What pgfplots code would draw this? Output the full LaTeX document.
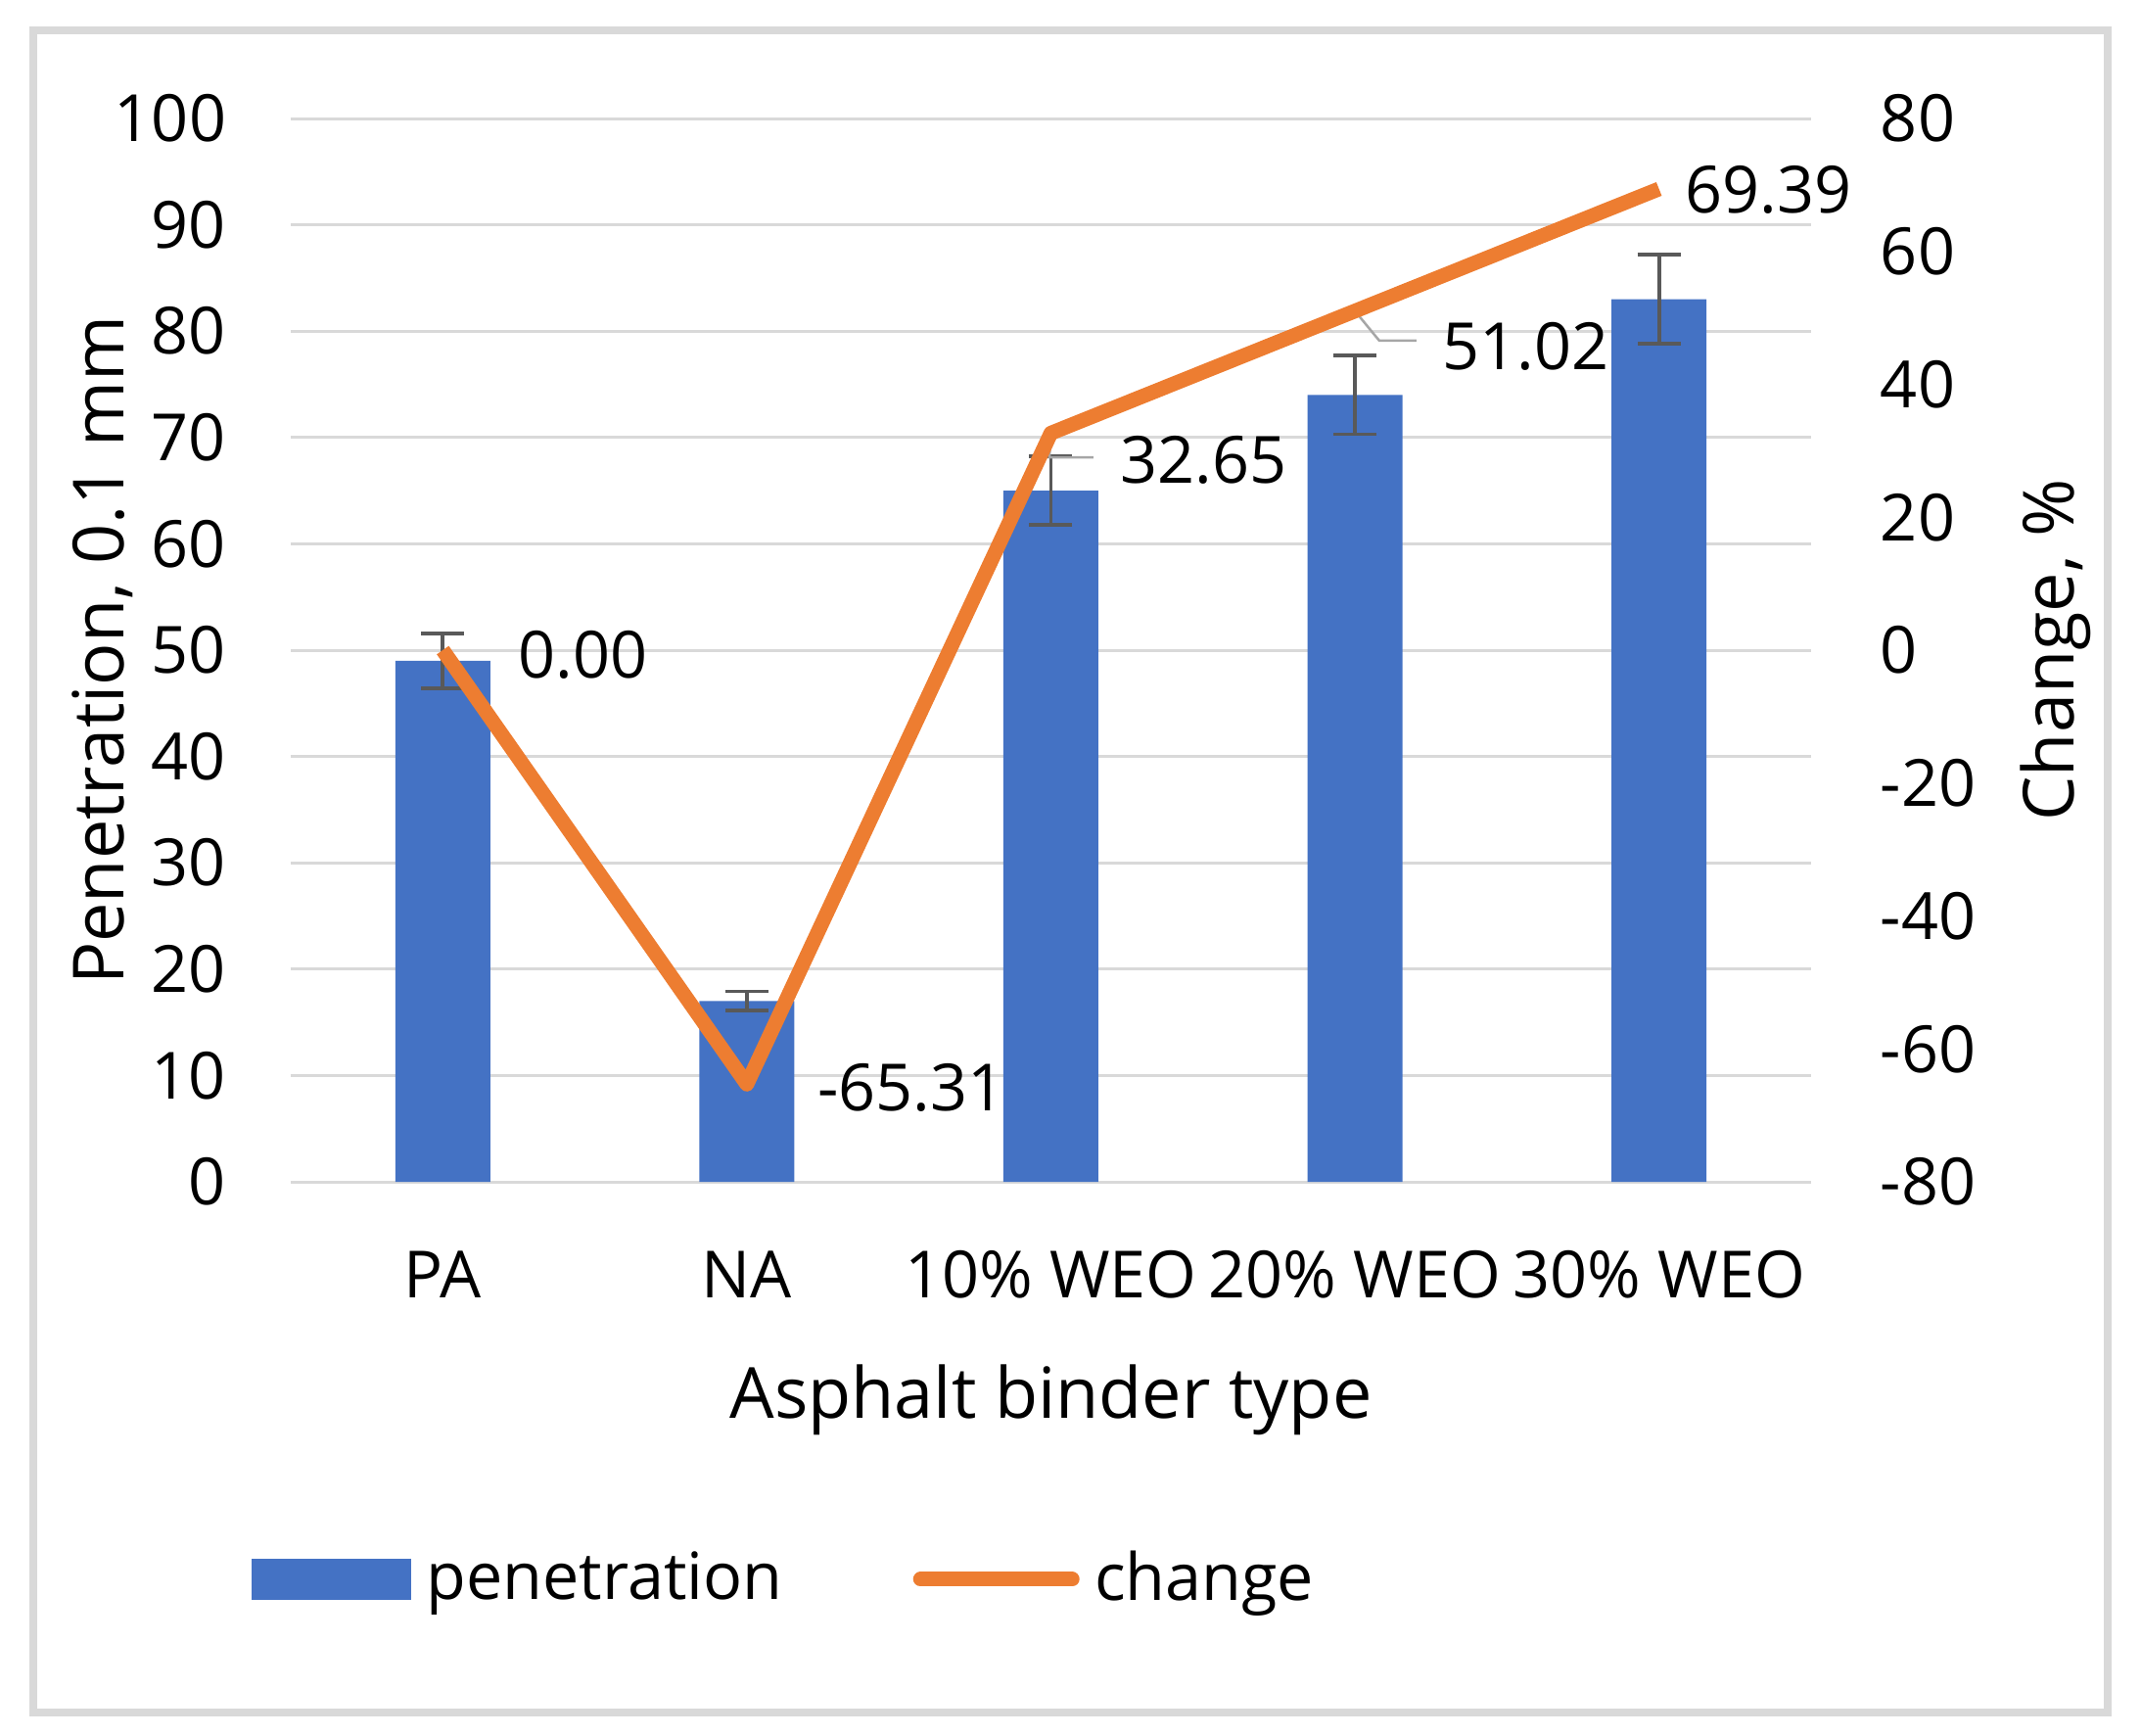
\documentclass[border=0pt]{standalone}
\usepackage{pgfplots}
\pgfplotsset{compat=1.18}
\usepackage{pgfplotstable}
\usepackage{fontspec}
\setmainfont{Open Sans}
\definecolor{barblue}{HTML}{4472C4}
\definecolor{lineorange}{HTML}{ED7D31}
\definecolor{gridgray}{HTML}{D9D9D9}
\definecolor{errgray}{HTML}{595959}
\definecolor{leadgray}{HTML}{A6A6A6}

\pgfplotstableread{
x y err
0 49 2.6
1 17 0.9
2 65 3.2
3 74 3.7
4 83 4.2
}\pendata
\pgfplotstableread{
x y dx dy
0 0.00 14.0 -1.0
1 -65.31 13.0 -0.7
2 32.65 12.7 -5.5
3 51.02 16.4 -7.3
4 69.39 3.9 -0.2
}\chgdata

\newcommand\tickfont{\fontsize{13.3}{16}\selectfont}
\newcommand\titlefont{\fontsize{14.4}{17}\selectfont}

\begin{document}
\begin{tikzpicture}
\useasboundingbox (0,0) rectangle (437.4pt,354.4pt);
\draw[gridgray, line width=1.6pt] (6.8pt,4.6pt) rectangle (430.6pt,348.2pt);
\begin{axis}[
  at={(59.4pt,113pt)}, anchor=south west,
  width=310.6pt, height=217.2pt, scale only axis,
  xmin=-0.5, xmax=4.5, ymin=0, ymax=100,
  xtick={0,1,2,3,4}, xticklabels={PA,NA,10\% WEO,20\% WEO,30\% WEO},
  ytick={0,10,...,100},
  axis line style={draw=none}, major tick length=0pt,
  ymajorgrids, grid style={gridgray, line width=0.6pt},
  /pgf/number format/assume math mode=true,
  tick label style={font=\tickfont, text=black, inner sep=0pt},
  yticklabel style={anchor=east, xshift=-13pt},
  xticklabel style={anchor=base, yshift=-23.6pt},
  xlabel={Asphalt binder type}, ylabel={Penetration, 0.1 mm},
  label style={font=\titlefont, inner sep=0pt},
  xlabel style={at={(axis description cs:0.5,0)}, anchor=base, yshift=-48.2pt},
  ylabel style={at={(axis description cs:-0.1095,0.5)}, anchor=base},
]
\addplot[ybar, bar width=19.4pt, fill=barblue, draw=none,
  error bars/.cd, y dir=both, y explicit,
  error bar style={line width=0.75pt, errgray},
  error mark options={rotate=90, mark size=4.4pt, line width=0.75pt, errgray}]
  table[x=x, y=y, y error=err] {\pendata};
\end{axis}
\begin{axis}[
  at={(59.4pt,113pt)}, anchor=south west,
  width=310.6pt, height=217.2pt, scale only axis,
  xmin=-0.5, xmax=4.5, ymin=-80, ymax=80,
  hide x axis,
  axis y line*=right,
  axis line style={draw=none}, major tick length=0pt,
  ytick={-80,-60,...,80},
  /pgf/number format/assume math mode=true,
  tick label style={font=\tickfont, text=black, inner sep=0pt},
  yticklabel style={anchor=west, xshift=14pt},
  ylabel={Change, \%},
  label style={font=\titlefont, inner sep=0pt},
  ylabel style={at={(axis description cs:1.1726,0.5)}, anchor=base},
  legend columns=2,
  legend cell align=left,
  legend style={draw=none, fill=none, inner sep=0pt,
    at={(axis description cs:-0.0264,-0.3738)}, anchor=west,
    font=\tickfont, nodes={inner sep=0pt},
    /tikz/every odd column/.append style={column sep=3.1pt},
    /tikz/every even column/.append style={column sep=26.7pt}},
]
\addlegendimage{legend image code/.code={\fill[barblue] (0pt,-4pt) rectangle (32.2pt,4pt);}}
\addlegendentry{penetration}
\draw[leadgray, line width=0.5pt] (axis cs:2,32.65) -- (axis cs:1.995,29.0) -- (axis cs:2.14,29.0);
\draw[leadgray, line width=0.5pt] (axis cs:3,51.02) -- (axis cs:3.08,46.56) -- (axis cs:3.2025,46.56);
\addplot[lineorange, line width=3pt, line join=round, mark=none,
  point meta=y,
  visualization depends on=\thisrow{dx} \as \dx,
  visualization depends on=\thisrow{dy} \as \dy,
  nodes near coords={\pgfmathprintnumber[fixed,fixed zerofill,precision=2]{\pgfplotspointmeta}},
  every node near coord/.append style={anchor=west, inner sep=0pt, xshift=\dx pt, yshift=\dy pt, font=\tickfont, text=black},
  legend image code/.code={\draw[lineorange, line cap=round, line width=3pt] (1.5pt,0pt) -- (32.5pt,0pt);}]
  table[x=x, y=y] {\chgdata};
\addlegendentry{change}
\end{axis}
\end{tikzpicture}
\end{document}
